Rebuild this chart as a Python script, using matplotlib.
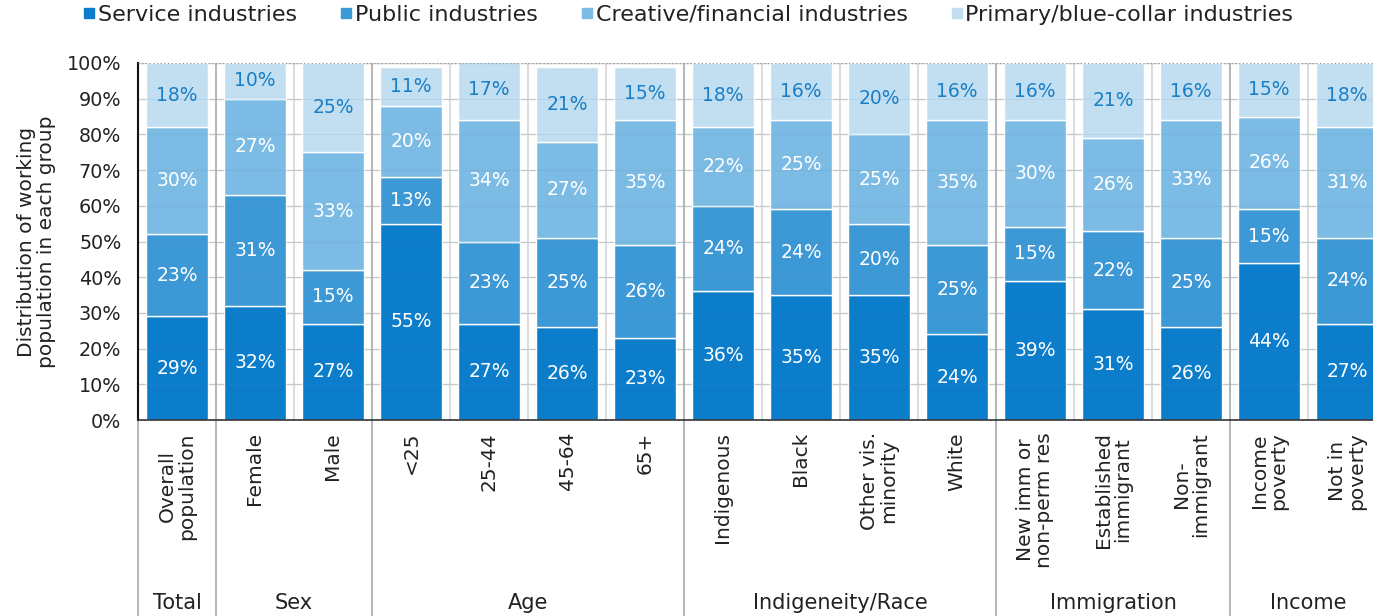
import matplotlib.pyplot as plt
import numpy as np
from matplotlib.lines import Line2D
from matplotlib.transforms import blended_transform_factory

plt.rcParams["font.family"] = ["DejaVu Sans"]

# %%
categories = [
    "Overall\npopulation", "Female", "Male", "<25", "25-44", "45-64", "65+",
    "Indigenous", "Black", "Other vis.\nminority", "White",
    "New imm or\nnon-perm res", "Established\nimmigrant", "Non-\nimmigrant",
    "Income\npoverty", "Not in\npoverty",
]
groups = ["Total", "Sex", "Age", "Indigeneity/Race", "Immigration", "Income"]
group_sizes = [1, 2, 4, 4, 3, 2]

series_names = [
    "Service industries",
    "Public industries",
    "Creative/financial industries",
    "Primary/blue-collar industries",
]
service = [29, 32, 27, 55, 27, 26, 23, 36, 35, 35, 24, 39, 31, 26, 44, 27]
public = [23, 31, 15, 13, 23, 25, 26, 24, 24, 20, 25, 15, 22, 25, 15, 24]
creative = [30, 27, 33, 20, 34, 27, 35, 22, 25, 25, 35, 30, 26, 33, 26, 31]
primary = [18, 10, 25, 11, 17, 21, 15, 18, 16, 20, 16, 16, 21, 16, 15, 18]

COLORS = ["#0b7dcb", "#3d98d6", "#7cbbe4", "#c2dff2"]
LABEL_COLORS = ["white", "white", "white", "#1a7fc4"]
TEXT = "#222222"

# %%
W, H = 1373, 616
fig = plt.figure(figsize=(W / 100, H / 100), dpi=100)
ax_left, ax_right_px = 138, 138 + 16 * 78
ax = fig.add_axes([ax_left / W, (616 - 420) / H, (ax_right_px - ax_left) / W, (420 - 63) / H])

x = np.arange(len(categories))
data = [service, public, creative, primary]

ax.set_axisbelow(True)
ax.grid(axis="y", color="#d4d4d4", lw=1)
for g in range(len(categories) - 1):
    ax.axvline(g + 0.5, color="#dcdcdc", lw=1.5, zorder=0.5)

bottom = np.zeros(len(categories))
for vals, col, lcol in zip(data, COLORS, LABEL_COLORS):
    vals = np.array(vals, dtype=float)
    ax.bar(x, vals, 0.8, bottom=bottom, color=col, edgecolor="white", linewidth=1, zorder=2)
    for xi, b, v in zip(x, bottom, vals):
        ax.text(xi, b + v / 2, f"{int(v)}%", ha="center", va="center", color=lcol, fontsize=13.5, zorder=4)
    bottom += vals

# faint gridlines on top of the bars
for yv in range(10, 100, 10):
    ax.axhline(yv, color="#5a8fb8", lw=0.8, alpha=0.15, zorder=3)
ax.axhline(100, color="#999999", lw=1, ls=":", zorder=3)

ax.set_xlim(-0.5, len(categories) - 0.5)
ax.set_ylim(0, 100)
ax.set_yticks(range(0, 101, 10))
ax.set_yticklabels([f"{v}%" for v in range(0, 101, 10)], fontsize=13.8, color=TEXT)
ax.tick_params(axis="y", length=0, pad=12)
ax.tick_params(axis="x", length=0)
ax.set_xticks([])
for s in ["top", "right"]:
    ax.spines[s].set_visible(False)
ax.spines["left"].set_color("#111111")
ax.spines["left"].set_linewidth(1.5)
ax.spines["bottom"].set_color("#333333")
ax.spines["bottom"].set_linewidth(1.2)

ax.set_ylabel("Distribution of working\npopulation in each group", fontsize=14.5, color=TEXT,
              labelpad=8, linespacing=1.05)

# category labels under the bars
trans = blended_transform_factory(ax.transData, fig.transFigure)
for xi, lab in zip(x, categories):
    ax.text(xi, 1 - 432 / H, lab, transform=trans, rotation=90, ha="center", va="top",
            multialignment="center", fontsize=14.5, color=TEXT, linespacing=1.0)

# group separators and group labels
edges = np.concatenate([[0], np.cumsum(group_sizes)]) - 0.5
for e in edges[:-1]:
    ax.plot([e, e], [1 - 420 / H, 0], transform=trans, color="#aaaaaa", lw=1.2, clip_on=False)
    if e > 0:
        ax.plot([e, e], [0, 100], color="#b0b0b0", lw=1.2, zorder=1)
for g, lo, hi in zip(groups, edges[:-1], edges[1:]):
    ax.text((lo + hi) / 2, 1 - 603 / H, g, transform=trans, ha="center", va="center",
            fontsize=15, color=TEXT)

handles = [Line2D([], [], marker="s", ls="none", markersize=6.5, color=c) for c in COLORS]
fig.legend(handles, series_names, loc="center", bbox_to_anchor=(688 / W, 1 - 15 / H), ncol=4,
           frameon=False, fontsize=16, handletextpad=0.1, columnspacing=1.9, handlelength=0.6,
           labelcolor=TEXT)

fig.savefig("out.png", dpi=100)
